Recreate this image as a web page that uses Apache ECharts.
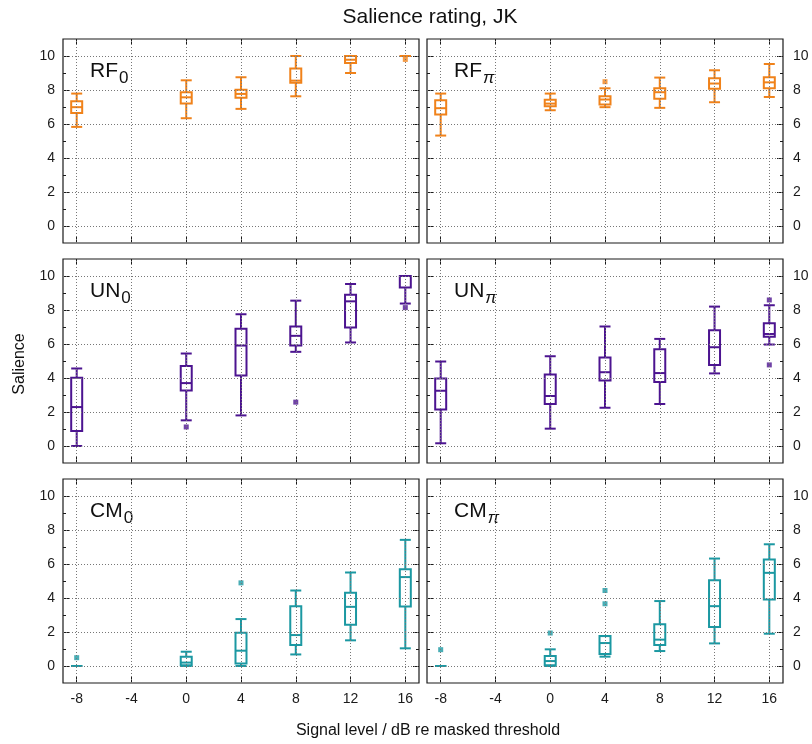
<!DOCTYPE html>
<html>
<head>
<meta charset="utf-8">
<script src="https://cdn.jsdelivr.net/npm/echarts@6.0.0/dist/echarts.min.js"></script>
<style>html,body{margin:0;padding:0;background:#fff}#c{width:812px;height:744px}</style>
</head>
<body>
<div id="c"></div>
<script>
// ---- data ----
const levels = [-8, 0, 4, 8, 12, 16];
const xTicks = [-8, -4, 0, 4, 8, 12, 16];
const yTicks = [0, 2, 4, 6, 8, 10];
const yMinor = [1, 3, 5, 7, 9];
// each row: [min, q1, median, q3, max]
const RF0 = [[5.83,6.65,6.99,7.34,7.79],[6.34,7.20,7.57,7.87,8.57],[6.89,7.55,7.77,8.02,8.75],[7.63,8.43,8.55,9.26,10.0],[9.0,9.59,9.78,10.0,10.0],[10,10,10,10,10]];
const RF0_out = [[16,9.8]];
const RFpi = [[5.32,6.56,6.93,7.40,7.79],[6.81,7.05,7.20,7.42,7.79],[6.99,7.14,7.44,7.63,8.10],[6.95,7.48,7.87,8.10,8.73],[7.28,8.08,8.38,8.69,9.16],[7.59,8.10,8.45,8.75,9.53]];
const RFpi_out = [[4,8.49]];
const UN0 = [[0,0.88,2.29,4.01,4.56],[1.51,3.27,3.70,4.70,5.44],[1.80,4.15,5.91,6.89,7.75],[5.54,5.91,6.48,7.03,8.55],[6.09,6.97,8.51,8.90,9.53],[8.38,9.33,10,10,10]];
const UN0_out = [[0,1.12],[8,2.58],[16,8.14]];
const UNpi = [[0.16,2.15,3.25,3.97,4.97],[1.02,2.47,2.94,4.21,5.28],[2.25,3.86,4.34,5.21,7.03],[2.47,3.76,4.29,5.69,6.30],[4.27,4.77,5.81,6.81,8.20],[5.97,6.42,6.59,7.22,8.28]];
const UNpi_out = [[16,8.59],[16,4.77]];
const CM0 = [[0,0,0,0,0],[0,0.04,0.20,0.55,0.84],[0,0.14,0.90,1.96,2.76],[0.68,1.23,1.82,3.52,4.44],[1.51,2.43,3.48,4.31,5.50],[1.04,3.50,5.23,5.69,7.42]];
const CM0_out = [[-8,0.49],[4,4.89]];
const CMpi = [[0,0,0,0,0],[0,0.04,0.29,0.59,0.98],[0.55,0.70,1.35,1.76,1.76],[0.88,1.23,1.55,2.45,3.82],[1.33,2.29,3.52,5.05,6.32],[1.90,3.91,5.48,6.26,7.16]];
const CMpi_out = [[-8,0.96],[0,1.94],[4,4.44],[4,3.66]];

const titleText = 'Salience rating, JK';
const xLabel = 'Signal level / dB re masked threshold';
const yLabel = 'Salience';

// ---- styling ----
const FONT = '"Liberation Sans", Arial, Helvetica, sans-serif';
const ORANGE = '#f0821a', PURPLE = '#4c1490', TEAL = '#1b98a2';
const panels = [
  {main:'RF', sub:'0', stats:RF0, out:RF0_out, color:ORANGE, col:0, row:0},
  {main:'RF', sub:'π', stats:RFpi, out:RFpi_out, color:ORANGE, col:1, row:0},
  {main:'UN', sub:'0', stats:UN0, out:UN0_out, color:PURPLE, col:0, row:1},
  {main:'UN', sub:'π', stats:UNpi, out:UNpi_out, color:PURPLE, col:1, row:1},
  {main:'CM', sub:'0', stats:CM0, out:CM0_out, color:TEAL, col:0, row:2},
  {main:'CM', sub:'π', stats:CMpi, out:CMpi_out, color:TEAL, col:1, row:2}
];
const gridLeft = [63, 427], gridTop = [39, 259, 479], GW = 356, GH = 204;

const grid = [], xAxis = [], yAxis = [], series = [], graphic = [];

panels.forEach((p, i) => {
  const L = gridLeft[p.col], T = gridTop[p.row];
  grid.push({left: L, top: T, width: GW, height: GH, show: true, borderColor: '#1a1a1a', borderWidth: 1.2, backgroundColor: 'transparent'});
  const baseX = {type: 'value', gridIndex: i, min: -9, max: 17, splitLine: {show: false},
    axisLine: {show: false, onZero: false}};
  xAxis.push(Object.assign({}, baseX, {position: 'bottom',
    axisTick: {show: true, inside: true, length: 6, customValues: xTicks, lineStyle: {color: '#1a1a1a', width: 1}},
    axisLabel: {show: p.row === 2, customValues: xTicks, fontSize: 14, color: '#1a1a1a', fontFamily: FONT, margin: 9}}));
  xAxis.push(Object.assign({}, baseX, {position: 'top',
    axisTick: {show: true, inside: true, length: 6, customValues: xTicks, lineStyle: {color: '#1a1a1a', width: 1}},
    axisLabel: {show: false}}));
  const mainPos = p.col === 0 ? 'left' : 'right', otherPos = p.col === 0 ? 'right' : 'left';
  const baseY = {type: 'value', gridIndex: i, min: -1, max: 11, splitLine: {show: false},
    axisLine: {show: false, onZero: false}};
  yAxis.push(Object.assign({}, baseY, {position: mainPos,
    axisTick: {show: true, inside: true, length: 6, customValues: yTicks, lineStyle: {color: '#1a1a1a', width: 1}},
    axisLabel: {show: true, customValues: yTicks, fontSize: 14, color: '#1a1a1a', fontFamily: FONT, margin: p.col === 0 ? 8 : 10}}));
  yAxis.push(Object.assign({}, baseY, {position: otherPos,
    axisTick: {show: true, inside: true, length: 6, customValues: yTicks, lineStyle: {color: '#1a1a1a', width: 1}},
    axisLabel: {show: false}}));
  yAxis.push(Object.assign({}, baseY, {position: mainPos,
    axisTick: {show: true, inside: true, length: 3, customValues: yMinor, lineStyle: {color: '#1a1a1a', width: 1}},
    axisLabel: {show: false}}));
  yAxis.push(Object.assign({}, baseY, {position: otherPos,
    axisTick: {show: true, inside: true, length: 3, customValues: yMinor, lineStyle: {color: '#1a1a1a', width: 1}},
    axisLabel: {show: false}}));
  const xi = 2 * i, yi = 4 * i;
  // grid lines
  series.push({type: 'line', xAxisIndex: xi, yAxisIndex: yi, data: [], silent: true,
    markLine: {silent: true, symbol: ['none', 'none'], label: {show: false}, animation: false,
      lineStyle: {color: '#777', type: [1, 2], width: 1},
      data: xTicks.map(v => ({xAxis: v})).concat(yTicks.map(v => ({yAxis: v})))}});
  // boxes
  const color = p.color;
  series.push({type: 'custom', xAxisIndex: xi, yAxisIndex: yi,
    data: levels.map((lv, k) => [lv].concat(p.stats[k])),
    encode: {x: 0, y: [1, 2, 3, 4, 5]},
    renderItem: function (params, api) {
      const x = api.value(0);
      const c = v => api.coord([x, api.value(v)]);
      const pMin = c(1), pQ1 = c(2), pMed = c(3), pQ3 = c(4), pMax = c(5);
      const cx = pMin[0], hw = 5.5;
      const st = {stroke: color, lineWidth: 2, fill: null};
      const line = (x1, y1, x2, y2) => ({type: 'line', shape: {x1, y1, x2, y2}, style: st});
      return {type: 'group', children: [
        line(cx, pMax[1], cx, pQ3[1]),
        line(cx, pQ1[1], cx, pMin[1]),
        line(cx - hw, pMax[1], cx + hw, pMax[1]),
        line(cx - hw, pMin[1], cx + hw, pMin[1]),
        {type: 'rect', shape: {x: cx - hw, y: pQ3[1], width: 2 * hw, height: pQ1[1] - pQ3[1]}, style: st},
        line(cx - hw, pMed[1], cx + hw, pMed[1])
      ]};
    }});
  // outliers
  series.push({type: 'scatter', xAxisIndex: xi, yAxisIndex: yi, data: p.out,
    symbol: 'rect', symbolSize: 5, itemStyle: {color: color}, silent: true});
  // panel label
  graphic.push({type: 'text', left: L + 27, top: T + 22,
    style: {text: '{m|' + p.main + '}{s|' + p.sub + '}', fill: '#111',
      rich: {m: {fontSize: 21, fontFamily: FONT, fill: '#111'},
             s: {fontSize: 17, fontFamily: FONT, fill: '#111', padding: [14, 0, 0, 1],
                 fontStyle: p.sub === 'π' ? 'italic' : 'normal'}}}});
});

graphic.push({type: 'text', x: 430, y: 17, style: {text: titleText, font: '21px ' + FONT, fill: '#111', align: 'center', verticalAlign: 'middle'}});
graphic.push({type: 'text', x: 428, y: 731, style: {text: xLabel, font: '16px ' + FONT, fill: '#111', align: 'center', verticalAlign: 'middle'}});
graphic.push({type: 'text', x: 20, y: 364, rotation: Math.PI / 2, style: {text: yLabel, font: '16px ' + FONT, fill: '#111', align: 'center', verticalAlign: 'middle'}});

const chart = echarts.init(document.getElementById('c'), null, {renderer: 'canvas'});
chart.setOption({animation: false, backgroundColor: '#fff', textStyle: {fontFamily: FONT},
  grid, xAxis, yAxis, series, graphic});
</script>
</body>
</html>
